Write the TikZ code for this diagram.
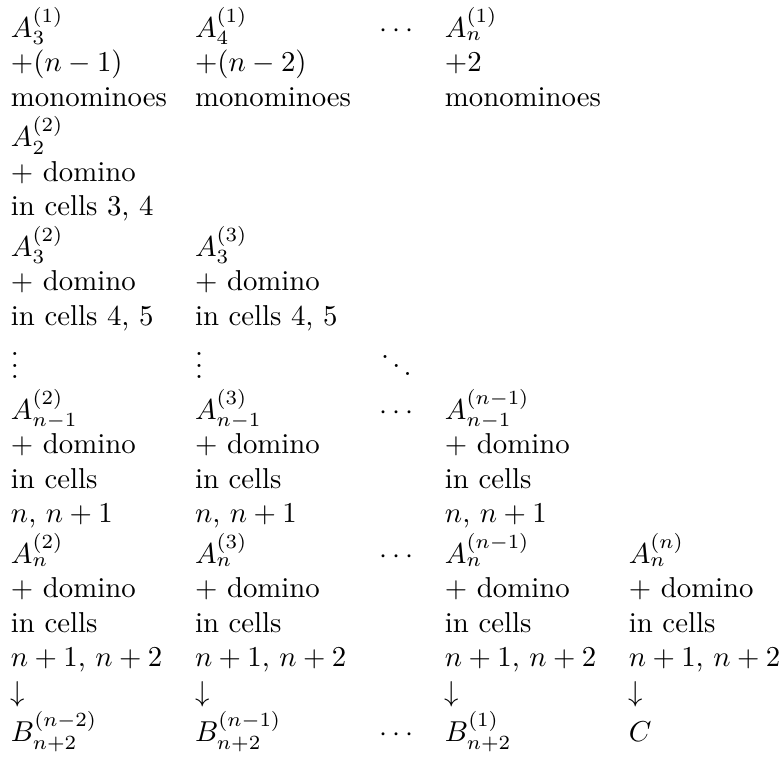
\documentclass[tikz,border=0pt]{standalone}
\begin{document}
\begin{tikzpicture}[x=1pt,y=-1pt,
  cell/.style={anchor=base west,inner sep=0pt,outer sep=0pt}]
\useasboundingbox (0,0) rectangle (271.7,262.7);
% row 1-3
\node[cell] (r1c1) at (3.82,12.86) {$A_3^{(1)}$};
\node[cell] (r1c2) at (67.76,12.86) {$A_4^{(1)}$};
\node[cell] (r1c3) at (131.9,12.86) {$\cdots$};
\node[cell] (r1c4) at (154.6,12.86) {$A_n^{(1)}$};
\node[cell] (r2c1) at (3.82,24.86) {$+(n-1)$};
\node[cell] (r2c2) at (67.76,24.86) {$+(n-2)$};
\node[cell] (r2c4) at (154.6,24.86) {$+2$};
\node[cell] (r3c1) at (3.82,36.86) {monominoes};
\node[cell] (r3c2) at (67.76,36.86) {monominoes};
\node[cell] (r3c4) at (154.6,36.86) {monominoes};
% row 4-6
\node[cell] (r4c1) at (3.82,50.91) {$A_2^{(2)}$};
\node[cell] (r5c1) at (3.82,62.91) {$+$ domino};
\node[cell] (r6c1) at (3.82,74.91) {in cells $3$, $4$};
% row 7-9
\node[cell] (r7c1) at (3.82,88.96) {$A_3^{(2)}$};
\node[cell] (r7c2) at (67.76,88.96) {$A_3^{(3)}$};
\node[cell] (r8c1) at (3.82,100.96) {$+$ domino};
\node[cell] (r8c2) at (67.76,100.96) {$+$ domino};
\node[cell] (r9c1) at (3.82,112.96) {in cells $4$, $5$};
\node[cell] (r9c2) at (67.76,112.96) {in cells $4$, $5$};
% row 10
\node[cell] (r10c1) at (3.82,131.62) {$\vdots$};
\node[cell] (r10c2) at (67.76,131.62) {$\vdots$};
\node[cell] (r10c3) at (131.9,131.62) {$\ddots$};
% row 11-14
\node[cell] (r11c1) at (3.82,145.67) {$A_{n-1}^{(2)}$};
\node[cell] (r11c2) at (67.76,145.67) {$A_{n-1}^{(3)}$};
\node[cell] (r11c3) at (131.9,145.67) {$\cdots$};
\node[cell] (r11c4) at (154.6,145.67) {$A_{n-1}^{(n-1)}$};
\node[cell] (r12c1) at (3.82,157.67) {$+$ domino};
\node[cell] (r12c2) at (67.76,157.67) {$+$ domino};
\node[cell] (r12c4) at (154.6,157.67) {$+$ domino};
\node[cell] (r13c1) at (3.82,169.67) {in cells};
\node[cell] (r13c2) at (67.76,169.67) {in cells};
\node[cell] (r13c4) at (154.6,169.67) {in cells};
\node[cell] (r14c1) at (3.82,181.67) {$n$, $n+1$};
\node[cell] (r14c2) at (67.76,181.67) {$n$, $n+1$};
\node[cell] (r14c4) at (154.6,181.67) {$n$, $n+1$};
% row 15-20
\node[cell] (r15c1) at (3.82,195.72) {$A_n^{(2)}$};
\node[cell] (r15c2) at (67.76,195.72) {$A_n^{(3)}$};
\node[cell] (r15c3) at (131.9,195.72) {$\cdots$};
\node[cell] (r15c4) at (154.6,195.72) {$A_n^{(n-1)}$};
\node[cell] (r15c5) at (218.5,195.72) {$A_n^{(n)}$};
\node[cell] (r16c1) at (3.82,207.72) {$+$ domino};
\node[cell] (r16c2) at (67.76,207.72) {$+$ domino};
\node[cell] (r16c4) at (154.6,207.72) {$+$ domino};
\node[cell] (r16c5) at (218.5,207.72) {$+$ domino};
\node[cell] (r17c1) at (3.82,219.72) {in cells};
\node[cell] (r17c2) at (67.76,219.72) {in cells};
\node[cell] (r17c4) at (154.6,219.72) {in cells};
\node[cell] (r17c5) at (218.5,219.72) {in cells};
\node[cell] (r18c1) at (3.82,231.72) {$n+1$, $n+2$};
\node[cell] (r18c2) at (67.76,231.72) {$n+1$, $n+2$};
\node[cell] (r18c4) at (154.6,231.72) {$n+1$, $n+2$};
\node[cell] (r18c5) at (218.5,231.72) {$n+1$, $n+2$};
\node[cell] (r19c1) at (3.82,243.72) {$\downarrow$};
\node[cell] (r19c2) at (67.76,243.72) {$\downarrow$};
\node[cell] (r19c4) at (154.6,243.72) {$\downarrow$};
\node[cell] (r19c5) at (218.5,243.72) {$\downarrow$};
\node[cell] (r20c1) at (3.82,257.77) {$B_{n+2}^{(n-2)}$};
\node[cell] (r20c2) at (67.76,257.77) {$B_{n+2}^{(n-1)}$};
\node[cell] (r20c3) at (131.9,257.77) {$\cdots$};
\node[cell] (r20c4) at (154.6,257.77) {$B_{n+2}^{(1)}$};
\node[cell] (r20c5) at (218.5,257.77) {$C$};
\end{tikzpicture}
\end{document}
